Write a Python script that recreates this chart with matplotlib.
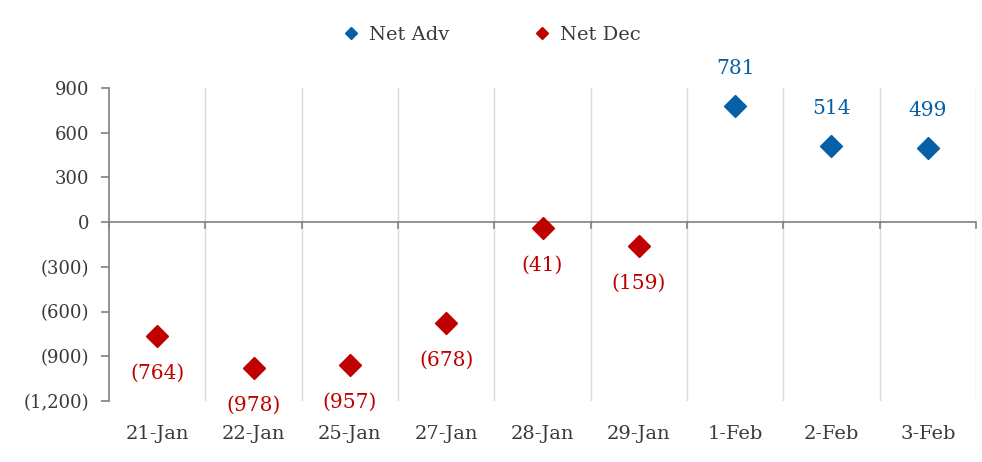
import matplotlib.pyplot as plt
import numpy as np

dates = ['21-Jan', '22-Jan', '25-Jan', '27-Jan', '28-Jan', '29-Jan', '1-Feb', '2-Feb', '3-Feb']
net_adv = [np.nan, np.nan, np.nan, np.nan, np.nan, np.nan, 781, 514, 499]
net_dec = [-764, -978, -957, -678, -41, -159, np.nan, np.nan, np.nan]
yticks = [-1200, -900, -600, -300, 0, 300, 600, 900]
ytick_labels = ['(1,200)', '(900)', '(600)', '(300)', '0', '300', '600', '900']

blue = '#0560A8'
red = '#C00000'
txt = '#3A3A3A'
plt.rcParams['font.family'] = ['DejaVu Serif']

fig = plt.figure(figsize=(9.82, 4.62), dpi=100)
ax = fig.add_axes([109/982, 1-401/462, (976-109)/982, (401-88)/462])

x = np.arange(len(dates))
ax.plot(x, net_adv, 'D', color=blue, markersize=11, label='Net Adv', zorder=3)
ax.plot(x, net_dec, 'D', color=red, markersize=11, label='Net Dec', zorder=3)

for xi, v in zip(x, net_adv):
    if not np.isnan(v):
        ax.annotate(f'{v:,.0f}', (xi, v), xytext=(0, 27), textcoords='offset points',
                    ha='center', va='center', color=blue, fontsize=14.5)
for xi, v in zip(x, net_dec):
    if not np.isnan(v):
        ax.annotate(f'({-v:,.0f})', (xi, v), xytext=(0, -27), textcoords='offset points',
                    ha='center', va='center', color=red, fontsize=14.5)

ax.set_xlim(-0.5, len(dates) - 0.5)
ax.set_ylim(-1200, 900)
ax.set_yticks(yticks)
ax.set_yticklabels(ytick_labels)
ax.set_xticks(x)
ax.set_xticklabels(dates)

# vertical gridlines between categories
for b in np.arange(0.5, len(dates), 1):
    ax.axvline(b, color='#D9D9D9', linewidth=1, zorder=1)

# zero line with category ticks
ax.axhline(0, color='#808080', linewidth=1.2, zorder=2)
for b in np.arange(-0.5, len(dates), 1):
    ax.plot([b, b], [0, -40], color='#808080', linewidth=1.2, zorder=2, clip_on=False)

for s in ['top', 'right', 'bottom']:
    ax.spines[s].set_visible(False)
ax.spines['left'].set_color('#808080')
ax.spines['left'].set_linewidth(1.2)
ax.tick_params(axis='y', colors='#808080', labelcolor=txt, labelsize=13, length=6, width=1.2, pad=8)
ax.tick_params(axis='x', length=0, labelcolor=txt, labelsize=14, pad=17)

fig.legend(loc='center', bbox_to_anchor=(0.5, 1 - 35/462), ncol=2, frameon=False,
           fontsize=14, markerscale=0.6, handletextpad=0.4, columnspacing=4.3,
           labelcolor=txt, handlelength=1.0)

plt.savefig('out.png', dpi=100)
